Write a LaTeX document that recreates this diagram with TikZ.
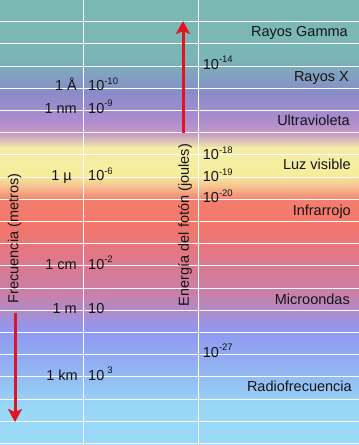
\documentclass[tikz,border=0pt]{standalone}
\usepackage{fontspec}
\setmainfont{Liberation Sans}
\usetikzlibrary{arrows.meta}
\definecolor{s0}{RGB}{122,184,180}
\definecolor{s1}{RGB}{122,182,182}
\definecolor{s2}{RGB}{136,140,202}
\definecolor{s3}{RGB}{176,140,206}
\definecolor{s4}{RGB}{196,156,196}
\definecolor{s5}{RGB}{244,236,168}
\definecolor{s6}{RGB}{246,238,156}
\definecolor{s7}{RGB}{246,196,146}
\definecolor{s8}{RGB}{244,126,110}
\definecolor{s9}{RGB}{244,118,106}
\definecolor{s10}{RGB}{222,120,140}
\definecolor{s11}{RGB}{200,128,170}
\definecolor{s12}{RGB}{144,152,242}
\definecolor{s13}{RGB}{146,182,242}
\definecolor{s14}{RGB}{152,214,246}
\definecolor{s15}{RGB}{154,218,246}
\definecolor{txt}{RGB}{20,20,20}
\definecolor{arrowred}{RGB}{226,20,30}
\newcommand\expo[1]{\raisebox{6.5pt}{\fontsize{9.5}{10}\selectfont #1}}
\begin{document}
\begin{tikzpicture}[x=1pt,y=-1pt,
  lbl/.style={font=\fontsize{14.5}{16}\selectfont, text=txt, inner sep=0pt},
  gridline/.style={white, line width=1.1pt},
  redarrow/.style={arrowred, line width=3pt, -{Stealth[width=14pt,length=13pt,inset=3pt]}}]
\useasboundingbox (0,0) rectangle (359,445);
% background bands
\def\band#1#2#3#4{\shade[top color=#3, bottom color=#4] (0,#1-0.3) rectangle (359,#2+0.3);}
\band{0}{58}{s0}{s1}
\band{58}{92}{s1}{s2}
\band{92}{122}{s2}{s3}
\band{122}{134}{s3}{s4}
\band{134}{148}{s4}{s5}
\band{148}{174}{s5}{s6}
\band{174}{186}{s6}{s7}
\band{186}{200}{s7}{s8}
\band{200}{225}{s8}{s9}
\band{225}{260}{s9}{s10}
\band{260}{295}{s10}{s11}
\band{295}{330}{s11}{s12}
\band{330}{372}{s12}{s13}
\band{372}{405}{s13}{s14}
\band{405}{445}{s14}{s15}
% grid
\foreach \k in {0,...,19} {
  \draw[gridline] (0,{21.7+22.2*\k}) -- (359,{21.7+22.2*\k});
}
\draw[gridline] (83.3,0) -- (83.3,445);
\draw[gridline] (198.3,0) -- (198.3,445);
% wavelength labels
\node[lbl, anchor=base east] (wA) at (77,90.7) {1 Å};
\node[lbl, anchor=base west] (eA) at (88,90.7) {10\expo{-10}};
\node[lbl, anchor=base east] (wnm) at (77,113.3) {1 nm};
\node[lbl, anchor=base west] (enm) at (88,113.3) {10\expo{-9}};
\node[lbl, anchor=base east] (wmu) at (72,180.7) {1 µ};
\node[lbl, anchor=base west] (emu) at (88,180.7) {10\expo{-6}};
\node[lbl, anchor=base east] (wcm) at (77,269.3) {1 cm};
\node[lbl, anchor=base west] (ecm) at (88,269.3) {10\expo{-2}};
\node[lbl, anchor=base east] (wm) at (77,313.3) {1 m};
\node[lbl, anchor=base west] (em) at (88,313.3) {10};
\node[lbl, anchor=base east] (wkm) at (78,380) {1 km};
\node[lbl, anchor=base west] (ekm) at (88,380) {10\hspace{3pt}\expo{3}};
% energy labels
\node[lbl, anchor=base west] (j14) at (202.7,69.3) {10\expo{-14}};
\node[lbl, anchor=base west] (j18) at (202.7,159.5) {10\expo{-18}};
\node[lbl, anchor=base west] (j19) at (202.7,181.7) {10\expo{-19}};
\node[lbl, anchor=base west] (j20) at (202.7,202.7) {10\expo{-20}};
\node[lbl, anchor=base west] (j27) at (202.7,357.3) {10\expo{-27}};
% band names
\node[lbl, anchor=base east] (gamma) at (348,36) {Rayos Gamma};
\node[lbl, anchor=base east] (xray) at (349,81) {Rayos X};
\node[lbl, anchor=base east] (uv) at (350,125.7) {Ultravioleta};
\node[lbl, anchor=base east] (vis) at (351,169.3) {Luz visible};
\node[lbl, anchor=base east] (ir) at (351,215) {Infrarrojo};
\node[lbl, anchor=base east] (micro) at (350,304) {Microondas};
\node[lbl, anchor=base east] (radio) at (352,391.7) {Radiofrecuencia};
% axis titles
\node[lbl, rotate=90] (freq) at (14.5,238.5) {Frecuencia (metros)};
\node[lbl, rotate=90] (energy) at (185,225) {Energía del fotón (joules)};
% arrows
\coordinate (ea1) at (183,133);
\coordinate (ea2) at (183,21);
\draw[redarrow] (ea1) -- (ea2);
\coordinate (fa1) at (15,313);
\coordinate (fa2) at (15,422);
\draw[redarrow] (fa1) -- (fa2);
\end{tikzpicture}
\end{document}
